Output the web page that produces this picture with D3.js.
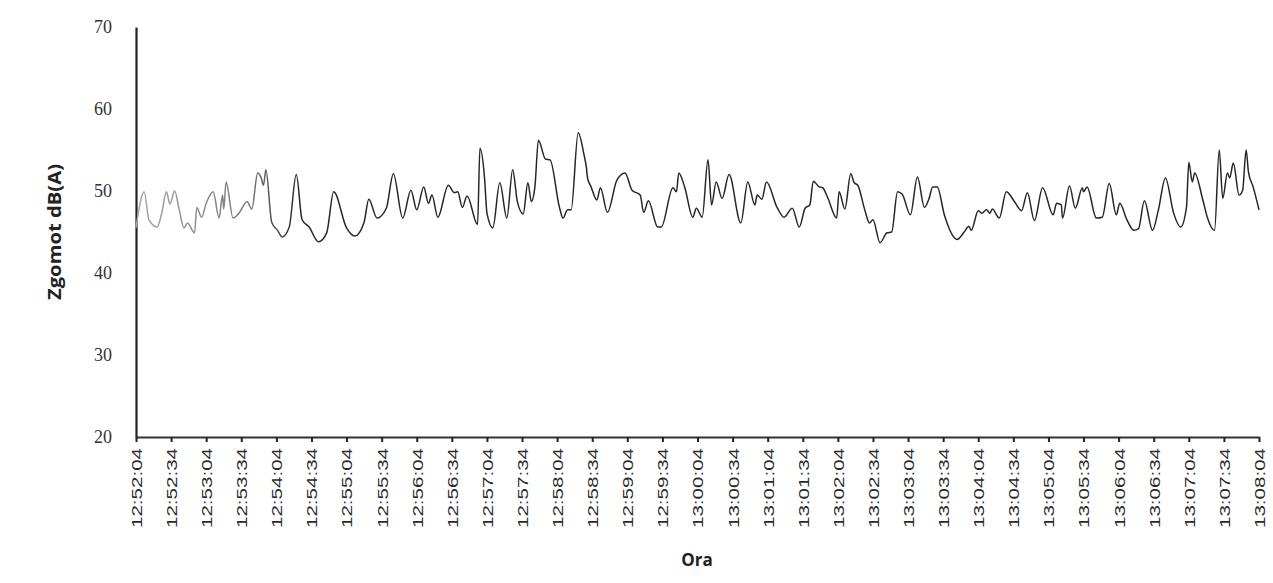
<!DOCTYPE html>
<html>
<head>
<meta charset="utf-8">
<script src="https://cdn.jsdelivr.net/npm/d3@7/dist/d3.min.js"></script>
<style>
  body { margin: 0; background: #fff; }
  svg { display: block; }
</style>
</head>
<body>
<svg id="chart" width="1273" height="583"></svg>
<script>
// seconds after 12:52:04
const times = [0,7,11,18,22,26,29,33,37,41,44,50,52,56,60,66,71,74,75,77,83,88,95,99,104,107,109,111,116,121,125,131,137,142,148,156,163,169,180,187,
195,199,206,214,220,228,235,240,246,250,253,258,267,272,275,279,283,292,294,298,300,305,311,317,322,326,331,335,338,341,344,350,354,362,365,369,372,378,383,
385,386,389,394,397,403,411,418,424,431,434,438,446,449,459,462,464,469,476,479,484,489,492,496,501,507,517,523,529,531,535,539,548,554,561,567,572,576,
579,584,587,591,599,601,606,611,614,617,623,627,630,636,642,646,651,655,662,668,674,678,681,685,691,702,708,712,714,720,723,727,730,732,738,744,751,757,762,768,
775,784,787,791,792,798,803,809,810,813,821,826,832,838,841,847,853,857,862,869,874,880,887,893,898,900,903,905,912,916,922,926,929,933,935,938,943,946,949,951,955,960];
// noise level dB(A)
const values = [45.5,49.9,46.5,45.6,47.3,49.9,48.4,50.0,47.7,45.5,46.1,44.9,48.0,46.8,48.5,49.9,46.7,49.5,47.8,51.1,46.7,47.3,48.7,47.8,52.2,51.6,50.7,52.6,46.2,45.2,44.4,45.6,52.0,46.5,45.6,43.8,44.9,49.9,45.5,44.5,
46.2,49.0,46.7,47.9,52.1,46.7,50.1,47.7,50.5,48.5,49.5,46.8,50.7,49.8,49.9,48.0,49.4,45.9,55.2,51.5,47.3,45.5,51.0,46.7,52.6,48.7,47.2,51.0,48.7,50.5,56.2,53.9,53.8,48.0,46.7,47.7,47.7,57.1,54.4,
52.9,51.6,50.5,48.9,50.4,47.4,51.3,52.2,50.1,49.5,47.4,48.8,45.6,45.6,50.4,49.9,52.2,50.5,46.8,47.9,46.8,53.8,48.3,51.1,49.1,52.0,46.1,51.1,48.3,49.5,49.0,51.1,48.0,46.8,47.9,45.6,47.9,48.3,
51.2,50.5,50.4,49.3,46.7,49.9,47.8,52.1,51.0,50.7,47.7,46.1,46.5,43.7,44.9,45.0,49.9,49.6,47.1,51.7,48.0,49.1,50.5,50.5,47.1,44.1,45.0,45.7,45.2,47.6,47.3,47.7,47.3,47.8,46.7,49.9,48.7,47.6,49.8,46.4,
50.4,47.1,48.5,48.3,46.7,50.6,47.9,50.4,49.9,50.5,46.7,46.8,50.9,47.1,48.5,46.5,45.2,45.4,48.8,45.2,47.7,51.6,47.3,45.6,48.0,53.5,51.1,52.2,48.9,46.7,45.2,55.0,49.1,52.2,51.6,53.4,49.5,50.1,55.0,52.3,50.5,47.7];

const tickSeconds = d3.range(0, 961, 30);
const tickLabels = ["12:52:04","12:52:34","12:53:04","12:53:34","12:54:04","12:54:34","12:55:04","12:55:34","12:56:04","12:56:34",
"12:57:04","12:57:34","12:58:04","12:58:34","12:59:04","12:59:34","13:00:04","13:00:34","13:01:04","13:01:34","13:02:04","13:02:34",
"13:03:04","13:03:34","13:04:04","13:04:34","13:05:04","13:05:34","13:06:04","13:06:34","13:07:04","13:07:34","13:08:04"];
const yTicks = [20, 30, 40, 50, 60, 70];

const svg = d3.select("#chart");
const x = d3.scaleLinear().domain([0, 960]).range([136, 1259]);
const y = d3.scaleLinear().domain([20, 70]).range([437, 27]);

// gradient to mimic the faded left part of the scanned line
const defs = svg.append("defs");
const grad = defs.append("linearGradient").attr("id", "lineGrad")
  .attr("gradientUnits", "userSpaceOnUse").attr("x1", 136).attr("x2", 300).attr("y1", 0).attr("y2", 0);
grad.append("stop").attr("offset", "0%").attr("stop-color", "#a8a8a8");
grad.append("stop").attr("offset", "70%").attr("stop-color", "#777");
grad.append("stop").attr("offset", "100%").attr("stop-color", "#262626");

// Y axis
const yAxis = svg.append("g").attr("transform", "translate(136,0)")
  .call(d3.axisLeft(y).tickValues(yTicks).tickSize(0).tickPadding(24).tickFormat(d3.format("d")));
yAxis.select(".domain").attr("stroke", "#222").attr("stroke-width", 2.2);
yAxis.selectAll("text").attr("font-family", "'Liberation Serif', 'DejaVu Serif', serif")
  .attr("font-size", 18).attr("fill", "#333").attr("dy", "0.3em");

// X axis
const xAxis = svg.append("g").attr("transform", "translate(0,437)")
  .call(d3.axisBottom(x).tickValues(tickSeconds).tickFormat((d, i) => tickLabels[i]).tickSize(5).tickSizeOuter(0));
xAxis.select(".domain").attr("stroke", "#333").attr("stroke-width", 2);
xAxis.selectAll(".tick line").attr("stroke", "#222").attr("stroke-width", 2);
xAxis.selectAll("text")
  .attr("font-family", "'Liberation Sans Narrow', 'Liberation Sans', Arial, sans-serif")
  .attr("font-size", 15).attr("fill", "#2a2a2a")
  .attr("text-anchor", "end")
  .attr("transform", "rotate(-90)")
  .attr("x", -11).attr("y", 0).attr("dy", "0.36em")
  .attr("textLength", 80).attr("lengthAdjust", "spacingAndGlyphs");

// line
const line = d3.line().curve(d3.curveMonotoneX).x((d, i) => x(times[i])).y(d => y(d));
svg.append("path").datum(values)
  .attr("fill", "none").attr("stroke", "url(#lineGrad)").attr("stroke-width", 1.5)
  .attr("stroke-linejoin", "round").attr("d", line);

// titles
svg.append("text").attr("transform", "translate(61,232) rotate(-90)")
  .attr("text-anchor", "middle").attr("font-family", "'Open Sans', 'DejaVu Sans', sans-serif")
  .attr("font-size", 17).attr("font-weight", "bold").attr("fill", "#222")
  .attr("textLength", 136).attr("lengthAdjust", "spacingAndGlyphs").text("Zgomot dB(A)");
svg.append("text").attr("x", 697).attr("y", 566)
  .attr("text-anchor", "middle").attr("font-family", "'Open Sans', 'DejaVu Sans', sans-serif")
  .attr("font-size", 17).attr("font-weight", "bold").attr("fill", "#222").text("Ora");
</script>
</body>
</html>
